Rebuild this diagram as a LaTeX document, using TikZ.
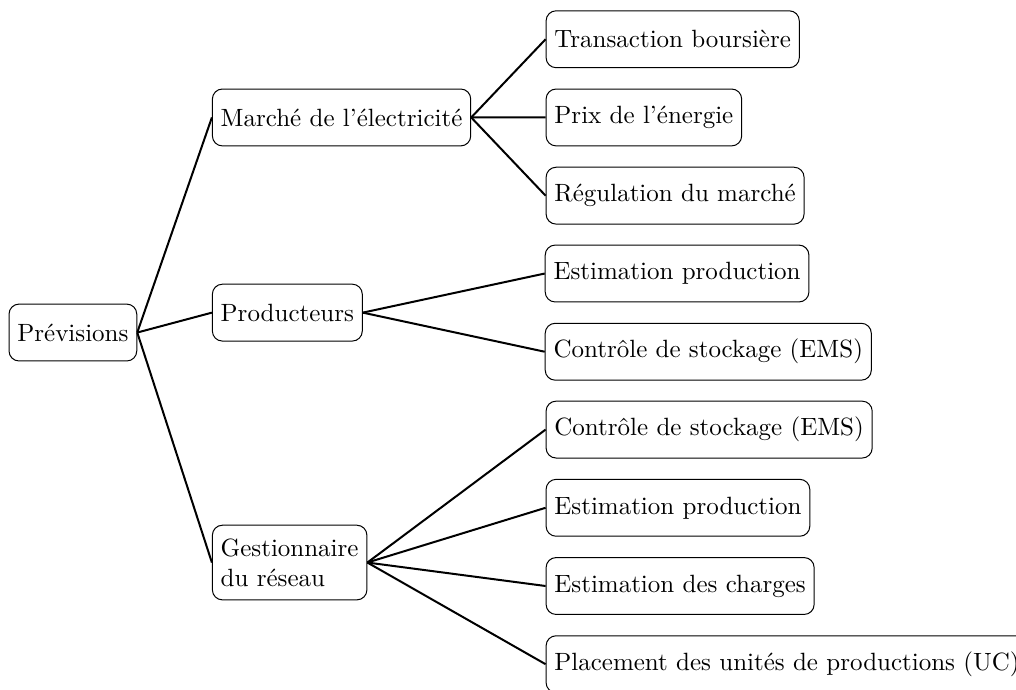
\documentclass[tikz,border=0pt]{standalone}
\usepackage{tikz}
\usetikzlibrary{trees}

\begin{document}
\begin{tikzpicture}[grow'=right,
	every node/.style={draw,thin,rounded corners,anchor=west,minimum height=0.8cm,align=left},
	edge from parent/.style={draw,thick},
	edge from parent path={(\tikzparentnode.east) -- (\tikzchildnode.west)},
	level 1/.style={level distance=1.955cm,sibling distance=3.025cm},
	level 2/.style={level distance=3.62cm,sibling distance=1.1cm}]
	\useasboundingbox (-0.12,-5.014) rectangle (14.17,4.677);
		\node(prev){Prévisions}
			child[level 2/.append style={level distance=2.87cm}]{
				node(marche){Marché de l’électricité}
				child{
					node(trans){Transaction boursière}
					edge from parent
				}
				child{
					node(prix){Prix de l’énergie}
					edge from parent
				}
				child{
					node(regul){Régulation du marché}
					edge from parent
				}
				edge from parent
			}
			child[yshift=0.28cm]{
				node(prod){Producteurs}
				child{
					node(pestim){Estimation production}
					edge from parent
				}
				child{
					node(pstock){Contrôle de stockage (EMS)}
					edge from parent
				}
				edge from parent
			}
			child[yshift=-0.21cm,level 2/.append style={level distance=3.6cm}]{
				node[minimum height=1.05cm](gest){Gestionnaire\\du réseau}
				child[yshift=0.22cm]{
					node(gstock){Contrôle de stockage (EMS)}
					edge from parent
				}
				child[yshift=0.22cm]{
					node(gestim){Estimation production}
					edge from parent
				}
				child[yshift=0.22cm]{
					node(gcharge){Estimation des charges}
					edge from parent
				}
				child[yshift=0.22cm]{
					node(gplace){Placement des unités de productions (UC)}
					edge from parent
				}
				edge from parent
			};
	\end{tikzpicture}
\end{document}
